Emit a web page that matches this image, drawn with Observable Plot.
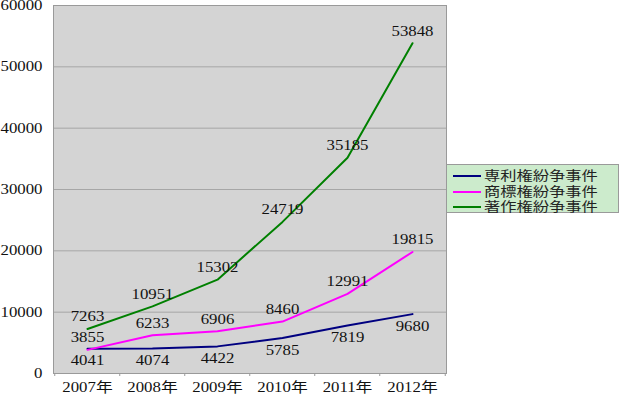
<!DOCTYPE html>
<html><head><meta charset="utf-8">
<script src="https://cdn.jsdelivr.net/npm/d3@7"></script>
<script src="https://cdn.jsdelivr.net/npm/@observablehq/plot@0.6"></script>
<style>
body{margin:0;background:#fff;}
#wrap{position:relative;width:619px;height:394px;overflow:hidden;}
#legend{position:absolute;left:446px;top:164px;width:173px;height:49px;background:#ccebcc;border:1px solid #9a9a9a;box-sizing:border-box;}
.row{position:absolute;left:0;width:100%;height:0;}
.sw{position:absolute;left:6px;top:-1px;width:28px;height:2px;}
.lab{position:absolute;left:37px;top:-8px;line-height:15px;font-size:13px;font-family:"Liberation Serif","Noto Sans CJK JP",serif;transform:scaleX(1.25);transform-origin:left center;white-space:nowrap;color:#222;}
</style></head>
<body>
<div id="wrap"><div id="chart"></div><div id="legend"></div></div>
<script>
const years = ["2007年","2008年","2009年","2010年","2011年","2012年"];
const patent = [4041,4074,4422,5785,7819,9680];
const trademark = [3855,6233,6906,8460,12991,19815];
const copyright = [7263,10951,15302,24719,35185,53848];
const seriesNames = ["専利権紛争事件","商標権紛争事件","著作権紛争事件"];
const seriesColors = ["#000080","#ff00ff","#008000"];
const yTicks = [0,10000,20000,30000,40000,50000,60000];

const rows = [];
[patent, trademark, copyright].forEach((vals, s) =>
  vals.forEach((v, i) => rows.push({year: years[i], value: v, series: seriesNames[s]})));

const font = `"Liberation Serif","Noto Sans CJK JP",serif`;
const chart = Plot.plot({
  width: 619, height: 394,
  marginLeft: 53, marginRight: 173, marginTop: 5, marginBottom: 21,
  style: {fontFamily: font, fontSize: "14px", color: "#111", background: "transparent", overflow: "visible"},
  x: {type: "point", domain: years, padding: 0.5, label: null},
  y: {domain: [0, 60000], label: null},
  color: {domain: seriesNames, range: seriesColors},
  marks: [
    Plot.frame({fill: "#d4d4d4"}),
    Plot.ruleY(yTicks, {stroke: "#a6a6a6", strokeWidth: 1}),
    Plot.frame({stroke: "#9a9a9a"}),
    Plot.ruleX(years, {x: d => d, dx: -32.75, insetTop: 368, insetBottom: -3, stroke: "#9a9a9a"}),
    Plot.ruleX([years[years.length - 1]], {x: d => d, dx: 32.75, insetTop: 368, insetBottom: -3, stroke: "#9a9a9a"}),
    Plot.axisX({ticks: years, tickSize: 0, tickPadding: 9, label: null, fontSize: 14}),
    Plot.axisY({ticks: yTicks, tickSize: 0, tickPadding: 11, tickFormat: d => String(d), label: null, fontSize: 14}),
    Plot.line(rows, {x: "year", y: "value", stroke: "series", strokeWidth: 2}),
    Plot.text(rows.filter(d => d.series !== seriesNames[0]), {x: "year", y: "value", text: d => String(d.value), dy: -12, fill: "#111", fontSize: 14}),
    Plot.text(rows.filter(d => d.series === seriesNames[0]), {x: "year", y: "value", text: d => String(d.value), dy: 12, fill: "#111", fontSize: 14})
  ]
});
document.getElementById("chart").appendChild(chart);

// horizontally stretch glyphs like the reference
chart.querySelectorAll("text").forEach(t => {
  const tr = t.getAttribute("transform");
  if (tr) t.setAttribute("transform", tr + " scale(1.2,1)");
  else {
    const x = +(t.getAttribute("x") || 0), y = +(t.getAttribute("y") || 0);
    t.removeAttribute("x"); t.removeAttribute("y");
    t.setAttribute("transform", `translate(${x},${y}) scale(1.2,1)`);
  }
});

const legend = document.getElementById("legend");
const rowTops = [11, 26.5, 42];
seriesNames.forEach((name, i) => {
  const r = document.createElement("div");
  r.className = "row"; r.style.top = rowTops[i] + "px";
  const sw = document.createElement("div");
  sw.className = "sw"; sw.style.background = seriesColors[i];
  const lab = document.createElement("span");
  lab.className = "lab"; lab.textContent = name;
  r.appendChild(sw); r.appendChild(lab);
  legend.appendChild(r);
});
</script>
</body></html>
